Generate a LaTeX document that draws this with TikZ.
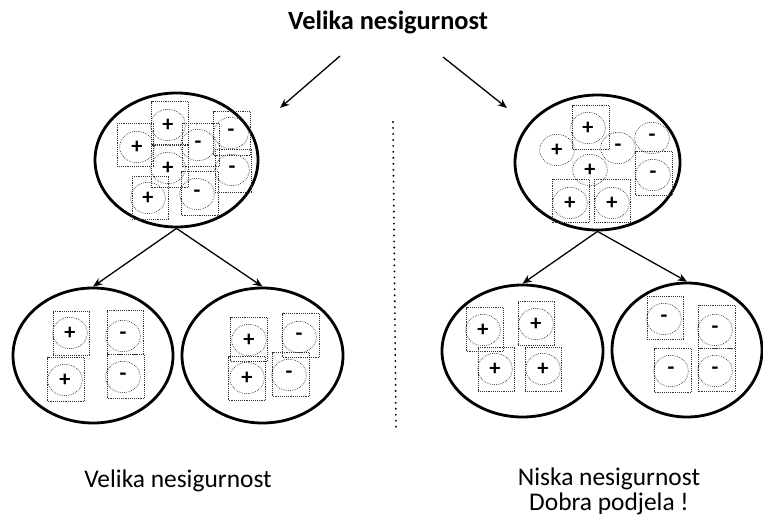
\documentclass[tikz,border=0pt]{standalone}
\usepackage{fontspec}
\setmainfont{Carlito}
\usepackage{tikz}
\usetikzlibrary{arrows.meta,shapes.geometric}

\begin{document}
\begin{tikzpicture}[x=0.03cm,y=-0.03cm,>={Stealth[length=8pt,width=6.5pt]},
  set node/.style={ellipse,draw,line width=2.4pt,inner sep=0pt},
  bin/.style={rectangle,draw=black!80,densely dotted,line width=0.6pt,
  minimum width=1.1cm,minimum height=1.3cm,inner sep=0pt},
  ball/.style={ellipse,draw=black!80,densely dotted,line width=0.6pt,
  minimum width=1.04cm,minimum height=0.94cm,inner sep=0pt,
  font=\bfseries\fontsize{19}{19}\selectfont}]

  \useasboundingbox (0,0) rectangle (763,517);

  \node[font=\bfseries\fontsize{22.5}{26}\selectfont,anchor=base] (title) at (388,30) {Velika nesigurnost};

  % sets
  \node[set node,minimum width=4.89cm,minimum height=4.02cm] (Lroot) at (176.5,160) {};
  \node[set node,minimum width=4.95cm,minimum height=4.05cm] (Rroot) at (597.5,162.5) {};
  \node[set node,minimum width=4.8cm,minimum height=4.05cm] (Lleft) at (93,355.5) {};
  \node[set node,minimum width=4.83cm,minimum height=4.05cm] (Lright) at (262.5,355.5) {};
  \node[set node,minimum width=4.83cm,minimum height=3.96cm] (Rleft) at (522.5,351) {};
  \node[set node,minimum width=4.5cm,minimum height=4.02cm] (Rright) at (687,350) {};

  % left root
  \node[bin] (La) at (170,123.5) {};   \node[ball] (Lac) at (168,125) {+};
  \node[bin] (Lb) at (135.5,145) {};   \node[ball] (Lbc) at (137,147) {+};
  \node[bin] (Lc) at (201,145) {};     \node[ball] (Lcc) at (198,145) {-};
  \node[bin] (Ld) at (232,133.5) {};   \node[ball] (Ldc) at (231,133) {-};
  \node[bin] (Le) at (170,166) {};     \node[ball] (Lec) at (168,168) {+};
  \node[bin] (Lf) at (233.5,171) {};   \node[ball] (Lfc) at (232,170) {-};
  \node[bin] (Lg) at (200,193.5) {};   \node[ball] (Lgc) at (197,194) {-};
  \node[bin] (Lh) at (150.5,198) {};   \node[ball] (Lhc) at (148,198) {+};

  % right root
  \node[bin] (Ra) at (591,127.5) {};   \node[ball] (Rac) at (588,128) {+};
  \node[ball] (Rbc) at (557,150) {+};
  \node[ball] (Rcc) at (618,148) {-};
  \node[ball] (Rdc) at (652,138) {-};
  \node[ball] (Rec) at (590,170) {+};
  \node[bin] (Rf) at (654,173.5) {};   \node[ball] (Rfc) at (653,175) {-};
  \node[bin] (Rg) at (571,201) {};     \node[ball] (Rgc) at (570,203) {+};
  \node[bin] (Rh) at (612.5,201) {};   \node[ball] (Rhc) at (612,203) {+};

  % left children
  \node[bin] (LLa) at (71.5,333.5) {}; \node[ball] (LLac) at (70,333) {+};
  \node[bin] (LLb) at (125.5,332.5) {};\node[ball] (LLbc) at (123,336) {-};
  \node[bin] (LLc) at (66,379.5) {};   \node[ball] (LLcc) at (65,380) {+};
  \node[bin] (LLd) at (126,376.5) {};  \node[ball] (LLdc) at (123,377) {-};

  \node[bin] (LRa) at (249,339.5) {};  \node[ball] (LRac) at (249,340) {+};
  \node[bin] (LRb) at (301,335.5) {};  \node[ball] (LRbc) at (299,337) {-};
  \node[bin] (LRc) at (247,378.5) {};  \node[ball] (LRcc) at (247,378) {+};
  \node[bin] (LRd) at (291,374.5) {};  \node[ball] (LRdc) at (289,375) {-};

  % right children
  \node[bin] (RLa) at (485,329.5) {};  \node[ball] (RLac) at (483,330) {+};
  \node[bin] (RLb) at (536.5,323.5) {};\node[ball] (RLbc) at (536,324) {+};
  \node[bin] (RLc) at (496.5,369.5) {};\node[ball] (RLcc) at (495,369) {+};
  \node[bin] (RLd) at (543.5,369.5) {};\node[ball] (RLdc) at (543,369) {+};

  \node[bin] (RRa) at (665.5,318) {};  \node[ball] (RRac) at (664,319) {-};
  \node[bin] (RRb) at (717,327) {};    \node[ball] (RRbc) at (715,330) {-};
  \node[bin] (RRc) at (673,370.5) {};  \node[ball] (RRcc) at (671,371) {-};
  \node[bin] (RRd) at (717,370) {};    \node[ball] (RRdc) at (715,371) {-};

  \coordinate (splitL) at (340,56);
  \coordinate (splitLend) at (280,108);
  \coordinate (splitR) at (443,57);
  \coordinate (splitRend) at (507,108);
  \coordinate (sepTop) at (393,122);
  \coordinate (sepBot) at (396,430);

  \path[->,line width=1.1pt]
    (splitL) edge (splitLend)
    (splitR) edge (splitRend)
    (Lroot.south) edge (Lleft.north)
    (Lroot.south) edge (Lright.north)
    (Rroot.south) edge (Rleft.north)
    (Rroot.south) edge (Rright.north);

  \draw[line width=1.8pt,dash pattern=on 0pt off 5.1pt,line cap=round] (sepTop) -- (sepBot);

  \node[font=\fontsize{21.7}{21.3}\selectfont,anchor=base] (lowL) at (178,487) {Velika nesigurnost};
  \node[font=\fontsize{21.7}{21.3}\selectfont,anchor=base,align=center] (lowR) at (609,510) {Niska nesigurnost\\Dobra podjela !};
\end{tikzpicture}
\end{document}
